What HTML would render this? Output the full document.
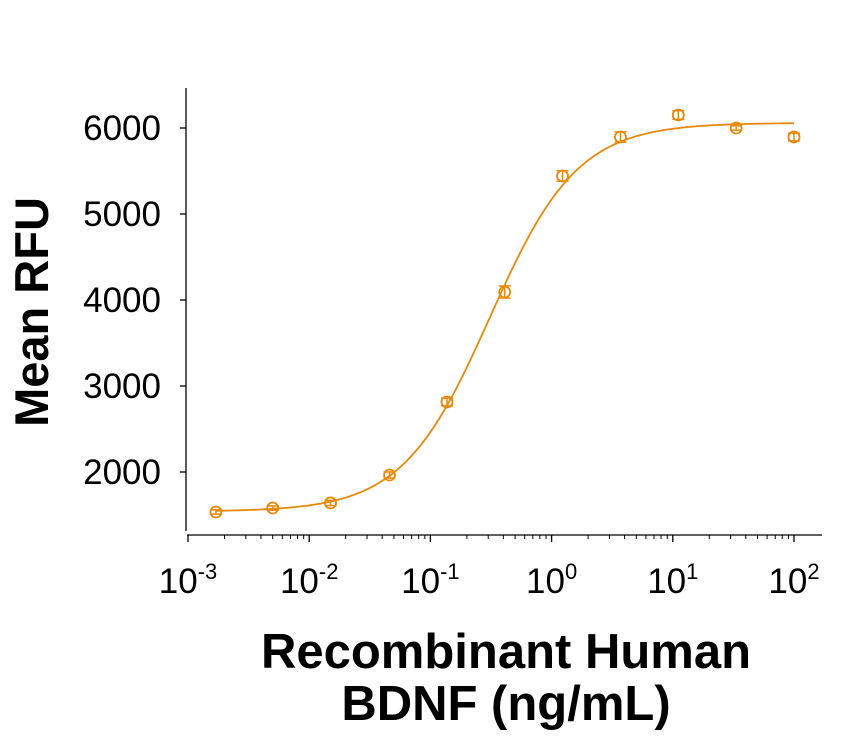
<!DOCTYPE html>
<html><head><meta charset="utf-8"><style>
body{margin:0;background:#fff;}
svg{display:block;font-family:"Liberation Sans",Arial,sans-serif;}
</style></head><body>
<svg id="chart" width="862" height="738"></svg>
<script>
const doses=[0.0017,0.005,0.015,0.046,0.137,0.41,1.23,3.7,11.1,33.3,100];
const values=[1535,1581,1640,1965,2814,4093,5442,5895,6151,6000,5895];
const errors=[25,25,30,35,45,70,60,60,50,25,45];
const yTicks=[2000,3000,4000,5000,6000];
const xTickExps=[-3,-2,-1,0,1,2];
const fitBottom=1540, fitTop=6060, fitEC50=0.31, fitHill=1.2;

const NS="http://www.w3.org/2000/svg";
const svg=document.getElementById('chart');
const C='#e8890c';
function xs(d){return 188+(Math.log10(d)+3)*121.2;}
function ys(v){return 472-(v-2000)*0.086;}
function el(tag,attrs,parent){const e=document.createElementNS(NS,tag);for(const k in attrs)e.setAttribute(k,attrs[k]);(parent||svg).appendChild(e);return e;}

const ya=el('line',{x1:186,y1:88,x2:186,y2:531,stroke:'#000','stroke-width':1.3});


const xa=el('line',{x1:187,y1:535,x2:822,y2:535,stroke:'#000','stroke-width':1.3});



yTicks.forEach(v=>{
  const y=ys(v);
  const t=el('line',{x1:180,y1:y,x2:186,y2:y,stroke:'#000','stroke-width':1.3});
  
  
  const l=el('text',{x:161,y:y+12,'text-anchor':'end','font-size':35,fill:'#000'});
  l.textContent=v;
  
  
});
xTickExps.forEach((e,i)=>{
  const x=xs(Math.pow(10,e));
  const t=el('line',{x1:x,y1:535,x2:x,y2:542,stroke:'#000','stroke-width':1.3});
  
  
  if(i<xTickExps.length-1){
    for(let m=2;m<10;m++){
      const mx=xs(m*Math.pow(10,e));
      const mt=el('line',{x1:mx,y1:535,x2:mx,y2:539,stroke:'#000','stroke-width':1});
      
      
    }
  }
  const l=el('text',{x:x,y:593,'text-anchor':'middle','font-size':35,fill:'#000'});
  
  
  l.textContent='10';
  const s=el('tspan',{dy:-14,'font-size':22},l);
  s.textContent=String(e);
});

let d='';
for(let i=0;i<=300;i++){
  const lx=Math.log10(0.0017)+i*(Math.log10(100)-Math.log10(0.0017))/300;
  const x=Math.pow(10,lx);
  const v=fitBottom+(fitTop-fitBottom)/(1+Math.pow(fitEC50/x,fitHill));
  d+=(i?'L':'M')+xs(x).toFixed(1)+','+ys(v).toFixed(1);
}
const curve=el('path',{d:d,fill:'none',stroke:C,'stroke-width':1.8});



doses.forEach((dz,i)=>{
  const x=xs(dz),y=ys(values[i]),e=errors[i]*0.086;
  const g=el('g',{});
  
  
  el('line',{x1:x,y1:y-e,x2:x,y2:y+e,stroke:C,'stroke-width':1.5},g);
  el('line',{x1:x-6,y1:y-e,x2:x+6,y2:y-e,stroke:C,'stroke-width':1.5},g);
  el('line',{x1:x-6,y1:y+e,x2:x+6,y2:y+e,stroke:C,'stroke-width':1.5},g);
  el('circle',{cx:x,cy:y,r:5.5,fill:'none',stroke:C,'stroke-width':1.8},g);
});

const yt=el('text',{x:0,y:0,transform:'translate(48,312) rotate(-90)','text-anchor':'middle','font-size':47,'font-weight':'bold',fill:'#000'});
yt.textContent='Mean RFU';


const xt1=el('text',{x:506,y:668,'text-anchor':'middle','font-size':49,'font-weight':'bold',fill:'#000'});
xt1.textContent='Recombinant Human';


const xt2=el('text',{x:506,y:720,'text-anchor':'middle','font-size':49,'font-weight':'bold',fill:'#000'});
xt2.textContent='BDNF (ng/mL)';


</script>
</body></html>
